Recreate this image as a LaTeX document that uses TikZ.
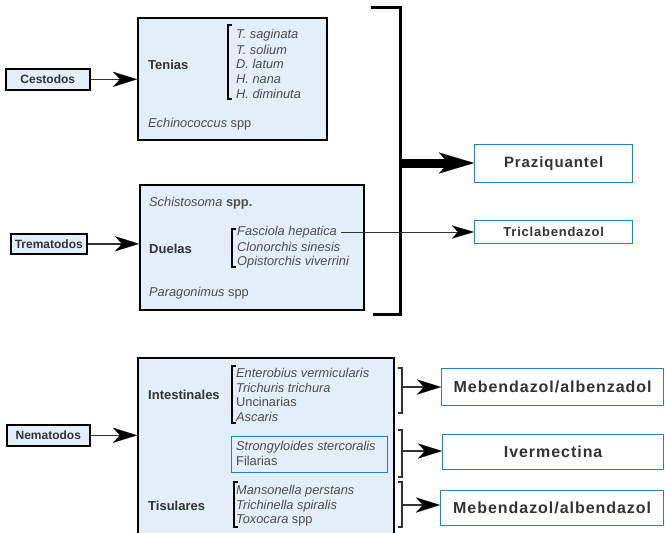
\documentclass[tikz,border=0pt]{standalone}
\usepackage{fontspec}
\setmainfont{Liberation Sans}
\newfontfamily\drugfont[LetterSpace=6]{Liberation Sans}
\usetikzlibrary{arrows.meta}
\definecolor{paleblue}{HTML}{E3EEF9}
\definecolor{drugblue}{HTML}{1E82CF}
\definecolor{inkgrey}{HTML}{333333}
\definecolor{txtgrey}{HTML}{4C4C4C}
\begin{document}
\begin{tikzpicture}[x=1pt,y=-1pt,
  phylum/.style={draw=black, line width=1.6pt, fill=paleblue, anchor=north west,
    inner sep=0pt, text=inkgrey, font=\fontsize{12}{14}\selectfont\bfseries},
  group/.style={draw=black, line width=1.6pt, fill=paleblue, anchor=north west, inner sep=0pt},
  subgroup/.style={draw=drugblue, line width=1.3pt, fill=paleblue, anchor=north west, inner sep=0pt},
  drug/.style={draw=drugblue, line width=1.3pt, fill=white, anchor=north west, inner sep=0pt,
    text=inkgrey, font=\drugfont\fontsize{16}{18}\selectfont\bfseries},
  grplabel/.style={anchor=west, inner sep=0pt, text=inkgrey, font=\fontsize{13}{15}\selectfont\bfseries},
  species/.style={anchor=west, inner sep=0pt, text=txtgrey, font=\fontsize{12.8}{15}\selectfont\itshape},
  conn/.style={draw=inkgrey, line width=1.4pt,
    -{Stealth[length=24pt,width=15pt,inset=7pt,black,line width=0.1pt]}},
  thinconn/.style={draw=inkgrey, line width=1pt,
    -{Stealth[length=22pt,width=13pt,inset=6pt,black,line width=0.1pt]}},
  sidebracket/.style={line width=2.2pt, draw=black},
  rightbracket/.style={line width=1.6pt, draw=inkgrey},
]
\useasboundingbox (0,0) rectangle (665,533);
\clip (0,0) rectangle (665,533);

% ---------- Cestodos ----------
\node[phylum, minimum width=84pt, minimum height=21pt] (ces) at (5,68) {Cestodos};
\node[group, minimum width=189pt, minimum height=122pt] (tenbox) at (137,17) {};
\node[grplabel] (tenias) at (148,65) {Tenias};
\draw[sidebracket] (232,25) -- (228,25) -- (228,99) -- (232,99);
\node[species] (tsag) at (236,35) {T. saginata};
\node[species] (tsol) at (236,50) {T. solium};
\node[species] (dlat) at (236,64) {D. latum};
\node[species] (hnan) at (236,79) {H. nana};
\node[species] (hdim) at (236,94) {H. diminuta};
\node[species] (echi) at (148,124) {Echinococcus \upshape spp};
\draw[conn] (ces.east) -- (ces.east -| tenbox.west);

% ---------- Trematodos ----------
\node[phylum, minimum width=76pt, minimum height=20pt] (tre) at (10,233) {Trematodos};
\node[group, minimum width=224pt, minimum height=125pt] (duebox) at (139,184) {};
\node[species] (schi) at (149,203) {Schistosoma \upshape\bfseries spp.};
\node[grplabel] (duelas) at (149,249) {Duelas};
\draw[sidebracket] (236,229) -- (232,229) -- (232,267) -- (236,267);
\node[species] (fh) at (237,232) {Fasciola hepatica};
\node[species] (clon) at (237,247) {Clonorchis sinesis};
\node[species] (opis) at (237,262) {Opistorchis viverrini};
\node[species] (para) at (149,293) {Paragonimus \upshape spp};
\draw[conn] (tre.east) -- (tre.east -| duebox.west);

% ---------- Drugs for flatworms ----------
\node[drug, minimum width=158pt, minimum height=38pt, font=\drugfont\fontsize{15}{17}\selectfont\bfseries]
  (praz) at (474,144) {Praziquantel};
\node[drug, minimum width=158pt, minimum height=23pt, font=\drugfont\fontsize{13}{15}\selectfont\bfseries]
  (tric) at (474,220) {Triclabendazol};
\draw[line width=3pt] (371,7) -- (400,7) -- (400,314) -- (373,314);
\coordinate (bigbk) at (400,163);
\draw[line width=9pt, draw=black,
  -{Stealth[length=35pt,width=21pt,inset=9pt,line width=0.1pt]}]
  (bigbk) -- (bigbk -| praz.west);
\draw[thinconn] ([xshift=4pt]fh.east) -- (fh.east -| tric.west);

% ---------- Nematodos ----------
\node[phylum, minimum width=83pt, minimum height=21pt] (nem) at (6,424) {Nematodos};
\node[group, minimum width=256pt, minimum height=200pt] (nembox) at (137,357) {};
\node[grplabel] (intes) at (148,395) {Intestinales};
\draw[sidebracket] (236,366) -- (232,366) -- (232,423) -- (236,423);
\node[species] (ente) at (236,373) {Enterobius vermicularis};
\node[species] (tric2) at (236,388) {Trichuris trichura};
\node[species] (unci) at (236,402) {\upshape Uncinarias};
\node[species] (asca) at (236,417) {Ascaris};
\node[subgroup, minimum width=156pt, minimum height=36pt] (strbox) at (231,436) {};
\node[species] (stro) at (236,447) {Strongyloides stercoralis};
\node[species] (fila) at (236,461) {\upshape Filarias};
\node[grplabel] (tisu) at (148,506) {Tisulares};
\draw[sidebracket] (238,482) -- (234,482) -- (234,527) -- (238,527);
\node[species] (mans) at (236,491) {Mansonella perstans};
\node[species] (trsp) at (236,506) {Trichinella spiralis};
\node[species] (toxo) at (236,520) {Toxocara \upshape spp};
\draw[conn] (nem.east) -- (nem.east -| nembox.west);

% ---------- Drugs for roundworms ----------
\node[drug, minimum width=222pt, minimum height=37pt] (meb1) at (441,368) {Mebendazol/albenzadol};
\node[drug, minimum width=221pt, minimum height=35pt] (iver) at (442,434) {Ivermectina};
\node[drug, minimum width=223pt, minimum height=35pt] (meb2) at (440,490) {Mebendazol/albendazol};

\draw[rightbracket] (398,368) -- (402,368) -- (402,413) -- (398,413);
\draw[rightbracket] (398,430) -- (402,430) -- (402,477) -- (398,477);
\draw[rightbracket] (398,482) -- (402,482) -- (402,527) -- (398,527);
\coordinate (bk1) at (402,387);
\coordinate (bk2) at (402,451);
\coordinate (bk3) at (402,505);
\draw[conn] (bk1) -- (bk1 -| meb1.west);
\draw[conn] (bk2) -- (bk2 -| iver.west);
\draw[conn] (bk3) -- (bk3 -| meb2.west);
\end{tikzpicture}
\end{document}
